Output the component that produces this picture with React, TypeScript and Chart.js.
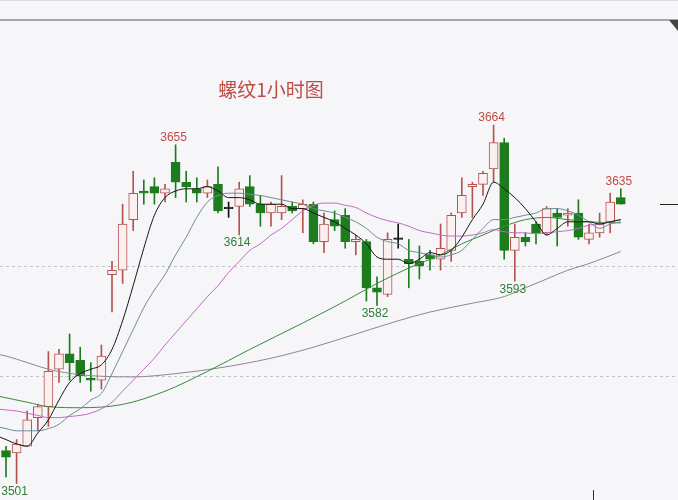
import React, { useEffect, useRef } from 'react';
import { Chart, registerables } from 'chart.js';

Chart.register(...registerables);

// ---- data ----
const title = '螺纹1小时图';

const opens = [3516, 3515, 3518, 3531, 3536, 3553, 3560, 3557, 3549, 3548, 3596, 3598, 3621, 3634, 3636, 3633, 3647, 3638, 3635, 3633, 3637, 3626, 3627, 3636, 3628, 3624, 3624, 3627, 3626, 3628, 3611, 3621, 3623, 3611, 3611, 3590, 3587, 3612, 3603, 3602, 3605, 3603, 3607, 3624, 3636, 3637, 3644, 3656, 3607, 3613, 3619, 3615, 3624, 3623, 3624, 3612, 3615, 3620, 3631];
const highs = [3518, 3521, 3534, 3537, 3561, 3562, 3569, 3563, 3556, 3564, 3602, 3628, 3643, 3639, 3640, 3637, 3655, 3643, 3640, 3639, 3645, 3629, 3638, 3641, 3632, 3629, 3641, 3629, 3630, 3629, 3624, 3625, 3626, 3614, 3612, 3595, 3615, 3619, 3612, 3609, 3607, 3619, 3624, 3640, 3638, 3643, 3664, 3658, 3619, 3615, 3620, 3627, 3626, 3626, 3630, 3619, 3624, 3633, 3635];
const lows = [3504, 3501, 3518, 3525, 3527, 3547, 3548, 3547, 3543, 3544, 3579, 3592, 3616, 3628, 3628, 3629, 3631, 3629, 3629, 3631, 3624, 3622, 3614, 3627, 3618, 3618, 3621, 3624, 3615, 3610, 3606, 3616, 3608, 3605, 3584, 3582, 3586, 3608, 3590, 3594, 3598, 3598, 3602, 3622, 3622, 3632, 3638, 3603, 3593, 3609, 3610, 3614, 3609, 3618, 3612, 3610, 3613, 3615, 3628];
const closes = [3513, 3519, 3530, 3536, 3552, 3560, 3556, 3550, 3548, 3559, 3598, 3619, 3633, 3633, 3633, 3635, 3638, 3636, 3633, 3636, 3625, 3626, 3635, 3628, 3624, 3628, 3627, 3625, 3628, 3611, 3619, 3618, 3611, 3612, 3590, 3588, 3612, 3612, 3601, 3600, 3603, 3608, 3623, 3632, 3637, 3642, 3656, 3607, 3613, 3611, 3615, 3626, 3622, 3624, 3613, 3615, 3619, 3629, 3628];

// moving averages: first value sits one bar before the first candle
const ma5 = [3523, 3521, 3519, 3518, 3524, 3530, 3539, 3547, 3551, 3553, 3555, 3562, 3575, 3591, 3608, 3623, 3631, 3634, 3635, 3635, 3636, 3634, 3631, 3631, 3630, 3628, 3628, 3628, 3626, 3626, 3624, 3622, 3620, 3617, 3614, 3610, 3604, 3603, 3603, 3601, 3603, 3606, 3605, 3607, 3613, 3621, 3628, 3638, 3635, 3631, 3626, 3620, 3614, 3617, 3620, 3620, 3620, 3619, 3620, 3621];
const ma10 = [3527, 3526, 3525, 3525, 3525, 3526, 3528, 3532, 3535, 3539, 3542, 3551, 3561, 3571, 3581, 3589, 3596, 3605, 3613, 3622, 3629, 3632, 3633, 3633, 3632.5, 3632, 3631, 3630, 3629, 3628, 3626, 3625, 3624, 3622, 3620, 3617, 3613, 3611, 3610, 3607, 3606, 3605, 3604, 3605, 3607, 3612, 3617, 3621, 3621, 3622, 3623, 3624, 3626, 3626, 3625, 3623, 3620, 3617, 3619, 3620];
const ma20 = [3535, 3534.5, 3534, 3533, 3532, 3531, 3531, 3531.5, 3532, 3533, 3535, 3538, 3543, 3548, 3553, 3558, 3564, 3569.5, 3575, 3580.5, 3586, 3591, 3597, 3602, 3607, 3610, 3614, 3617, 3621, 3625, 3627.5, 3628.5, 3628.5, 3627.5, 3626.5, 3624, 3622, 3620.5, 3619.5, 3618, 3616, 3615, 3614, 3613.5, 3613.5, 3614, 3615, 3616.5, 3615.5, 3615, 3615, 3614.5, 3615, 3615.5, 3616, 3617, 3618.5, 3619, 3620, 3621];
const ma40Bars = [-1, 0, 2, 4, 7, 11, 15, 19, 23, 28, 32, 35, 38, 41, 43, 45, 47, 49, 51, 53, 55, 58];
const ma40 = [3541, 3540, 3538, 3536, 3535.5, 3537, 3543, 3552, 3562, 3574, 3584, 3592, 3599, 3605, 3610, 3614, 3618, 3621, 3622, 3621, 3620, 3619.5];
const ma60Bars = [-1, 0, 2, 4, 7, 12, 16, 20, 25, 29, 33, 37, 40, 44, 47, 49, 51, 53, 55, 58];
const ma60 = [3560, 3559, 3556, 3553, 3550.5, 3549.5, 3551, 3553.5, 3558, 3563, 3569, 3575, 3579, 3583, 3586, 3590, 3594, 3598, 3601, 3606.5];

const highLabelBars = [16, 46, 58];
const lowLabelBars = [1, 22, 35, 48];
const gridLevels = [3550, 3600];

// ---- view ----
const W = 678;
const H = 500;
const BAR_STEP = 10.6;
const FIRST_BAR_PX = 6;
const X_MIN = -FIRST_BAR_PX / BAR_STEP;
const X_MAX = (W - FIRST_BAR_PX) / BAR_STEP;
const Y_MIN = 3493.55;
const Y_MAX = 3720.82;

const BG = '#f6f6f9';
const UP = '#b5524d';
const UP_FILL = '#fbf0f0';
const DOWN = '#1d7c1d';
const DOJI = '#111111';
const RED_TXT = '#bf4b45';
const GREEN_TXT = '#2f7d34';

const kind = (i: number) => (closes[i] > opens[i] ? 'up' : closes[i] < opens[i] ? 'down' : 'doji');
const strokeOf = (i: number) => (kind(i) === 'up' ? UP : kind(i) === 'down' ? DOWN : DOJI);
const fillOf = (i: number) => (kind(i) === 'up' ? UP_FILL : kind(i) === 'down' ? DOWN : DOJI);

const dense = (vals: number[]) => vals.map((v, k) => ({ x: k - 1, y: v }));
const sparse = (bars: number[], vals: number[]) => bars.map((b, k) => ({ x: b, y: vals[k] }));

const decor = {
  id: 'decor',
  beforeDraw(chart: any) {
    const { ctx, width, height } = chart;
    ctx.save();
    ctx.fillStyle = BG;
    ctx.fillRect(0, 0, width, height);
    ctx.restore();
  },
  beforeDatasetsDraw(chart: any) {
    const { ctx, chartArea } = chart;
    const ys = chart.scales.y;
    ctx.save();
    ctx.strokeStyle = '#c2c2c8';
    ctx.lineWidth = 1;
    ctx.setLineDash([3, 3]);
    gridLevels.forEach((v) => {
      const py = Math.round(ys.getPixelForValue(v)) + 0.5;
      ctx.beginPath();
      ctx.moveTo(chartArea.left, py);
      ctx.lineTo(chartArea.right, py);
      ctx.stroke();
    });
    ctx.restore();
  },
  afterDatasetsDraw(chart: any) {
    const { ctx, chartArea } = chart;
    const xs = chart.scales.x;
    const ys = chart.scales.y;
    ctx.save();
    ctx.font = '12px "Liberation Sans", Arial, sans-serif';
    ctx.textAlign = 'center';
    ctx.fillStyle = RED_TXT;
    ctx.textBaseline = 'bottom';
    highLabelBars.forEach((b) => {
      ctx.fillText(String(highs[b]), xs.getPixelForValue(b) - 2, ys.getPixelForValue(highs[b]) - 1);
    });
    ctx.fillStyle = GREEN_TXT;
    ctx.textBaseline = 'top';
    lowLabelBars.forEach((b) => {
      ctx.fillText(String(lows[b]), xs.getPixelForValue(b) - 2, ys.getPixelForValue(lows[b]) + 2);
    });

    // last price marker
    const last = closes[closes.length - 1];
    const lp = Math.round(ys.getPixelForValue(last)) + 0.5;
    ctx.strokeStyle = '#222';
    ctx.lineWidth = 1;
    ctx.beginPath();
    ctx.moveTo(chartArea.right - 18, lp);
    ctx.lineTo(chartArea.right, lp);
    ctx.stroke();

    // title
    ctx.font = '19px "Noto Sans CJK SC", sans-serif';
    ctx.fillStyle = RED_TXT;
    ctx.textBaseline = 'middle';
    ctx.fillText(title, chartArea.left + 271, chartArea.top + 90);

    // window chrome at top
    ctx.strokeStyle = '#dcdce3';
    ctx.beginPath();
    ctx.moveTo(0, 0.5);
    ctx.lineTo(W, 0.5);
    ctx.stroke();
    ctx.strokeStyle = '#8e8e92';
    ctx.lineWidth = 1.5;
    ctx.beginPath();
    ctx.moveTo(0, 20);
    ctx.lineTo(W, 20);
    ctx.stroke();
    ctx.fillStyle = '#444';
    ctx.beginPath();
    ctx.moveTo(669, 20);
    ctx.lineTo(678, 20);
    ctx.lineTo(678, 31);
    ctx.closePath();
    ctx.fill();
    ctx.strokeStyle = '#333';
    ctx.lineWidth = 1;
    ctx.beginPath();
    ctx.moveTo(593.5, 490);
    ctx.lineTo(593.5, 500);
    ctx.stroke();
    ctx.restore();
  },
};

export default function App() {
  const ref = useRef<HTMLCanvasElement>(null);
  useEffect(() => {
    document.body.style.margin = '0';
    const idx = opens.map((_, i) => i);
    const lineDs = (data: any[], color: string, tension: number) => ({
      type: 'line' as const,
      data,
      borderColor: color,
      borderWidth: 1,
      pointRadius: 0,
      tension,
      cubicInterpolationMode: 'monotone' as const,
      fill: false,
      order: 0,
    });
    const chart = new Chart(ref.current as HTMLCanvasElement, {
      type: 'bar',
      data: {
        datasets: [
          lineDs(dense(ma5), '#161616', 0.3),
          lineDs(dense(ma10), '#6e8c97', 0.3),
          lineDs(dense(ma20), '#c46ac6', 0.3),
          lineDs(sparse(ma40Bars, ma40), '#3a8a3a', 0.4),
          lineDs(sparse(ma60Bars, ma60), '#8a8a8e', 0.4),
          {
            type: 'bar',
            data: idx.map((i) => ({ x: i, y: [opens[i], closes[i]] })),
            backgroundColor: idx.map(fillOf),
            borderColor: idx.map(strokeOf),
            borderWidth: 1,
            borderSkipped: false,
            barThickness: 9,
            minBarLength: 1.5,
            grouped: false,
            order: 1,
          } as any,
          {
            type: 'bar',
            data: idx.map((i) => ({ x: i, y: [lows[i], highs[i]] })),
            backgroundColor: idx.map(strokeOf),
            borderWidth: 0,
            barThickness: 1,
            grouped: false,
            order: 2,
          } as any,
        ],
      },
      options: {
        responsive: false,
        animation: false,
        devicePixelRatio: 1,
        events: [],
        layout: { padding: 0 },
        plugins: { legend: { display: false }, tooltip: { enabled: false }, title: { display: false } },
        scales: {
          x: { type: 'linear', display: false, min: X_MIN, max: X_MAX, offset: false },
          y: { type: 'linear', display: false, min: Y_MIN, max: Y_MAX, beginAtZero: false },
        },
      },
      plugins: [decor],
    } as any);
    return () => chart.destroy();
  }, []);
  return (
    <div style={{ position: 'fixed', left: 0, top: 0, width: W, height: H, background: BG }}>
      <canvas ref={ref} width={W} height={H} style={{ display: 'block' }} />
    </div>
  );
}
